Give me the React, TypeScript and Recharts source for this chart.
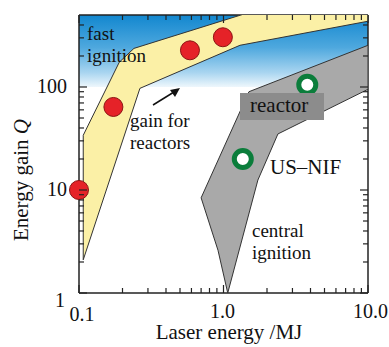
import React from "react";
import { ComposedChart, Scatter, XAxis, YAxis, ReferenceArea } from "recharts";

// axis ticks (log scales)
const X_TICKS = [0.1, 0.2, 0.3, 0.4, 0.5, 0.6, 0.7, 0.8, 0.9, 1, 2, 3, 4, 5, 6, 7, 8, 9, 10];
const Y_TICKS = [1, 2, 3, 4, 5, 6, 7, 8, 9, 10, 20, 30, 40, 50, 60, 70, 80, 90, 100, 200, 300, 400];
const X_LABELS: Record<string, string> = { "0.1": "0.1", "1": "1.0", "10": "10.0" };
const Y_LABELS: Record<string, string> = { "1": "1", "10": "10", "100": "100" };

// high gain zone (Q range)
const HIGH_GAIN = [100, 500];

// fast ignition band outline (MJ, Q)
const FAST_BAND = [
  { x: 0.107, y: 34 },
  { x: 0.19, y: 174 },
  { x: 0.24, y: 237 },
  { x: 2, y: 600 },
  { x: 10, y: 600 },
  { x: 10, y: 435 },
  { x: 1.3, y: 254 },
  { x: 0.264, y: 97 },
  { x: 0.107, y: 2.1 },
];

// central ignition band outline
const CENTRAL_BAND = [
  { x: 1.5, y: 90 },
  { x: 10, y: 254 },
  { x: 10, y: 95 },
  { x: 2.38, y: 35 },
  { x: 1.73, y: 12.5 },
  { x: 1.07, y: 1 },
  { x: 0.916, y: 2.6 },
  { x: 0.7, y: 8.4 },
];

const FAST_POINTS = [
  { x: 0.1, y: 10 },
  { x: 0.173, y: 64 },
  { x: 0.586, y: 227 },
  { x: 0.99, y: 304 },
];

const CENTRAL_POINTS = [
  { x: 3.8, y: 105 },
  { x: 1.36, y: 20 },
];

const FONT = "Liberation Serif";

const polygonLine = (fill: string) => (props: any) => {
  const pts = (props.points || []).map((p: any) => `${p.x},${p.y}`).join(" ");
  return <polygon points={pts} fill={fill} stroke="#333" strokeWidth={1} />;
};

const noShape = () => <g />;

const RedDot = (props: any) => (
  <circle cx={props.cx} cy={props.cy} r={9.5} fill="#e52228" stroke="#8b1414" strokeWidth={1} />
);

const GreenRing = (props: any) => (
  <circle cx={props.cx} cy={props.cy} r={8.5} fill="#fff" stroke="#0b7d3b" strokeWidth={5} />
);

const BottomTick = (props: any) => {
  const { x, y, payload } = props;
  const v = payload.value;
  const label = X_LABELS[String(v)];
  const len = label ? 8 : 5;
  let dx = 0;
  let dy = 25;
  let anchor = "middle";
  if (v === 0.1) { dx = 3; dy = 28; }
  if (v === 1) dx = -1;
  if (v === 10) { dx = 20; anchor = "end"; }
  return (
    <g>
      <line x1={x} x2={x} y1={y} y2={y - len} stroke="#222" strokeWidth={1.2} />
      {label && (
        <text x={x + dx} y={y + dy} textAnchor={anchor} fontFamily={FONT} fontSize={20} fill="#111">
          {label}
        </text>
      )}
    </g>
  );
};

const TopTick = (props: any) => {
  const { x, y, payload } = props;
  const len = X_LABELS[String(payload.value)] ? 8 : 5;
  return <line x1={x} x2={x} y1={y} y2={y + len} stroke="#222" strokeWidth={1.2} />;
};

const LeftTick = (props: any) => {
  const { x, y, payload } = props;
  const v = payload.value;
  const label = Y_LABELS[String(v)];
  const len = label ? 8 : 5;
  const lx = v === 1 ? x - 14 : x - 12;
  const ly = v === 1 ? y + 14 : y + 6;
  return (
    <g>
      <line x1={x} x2={x + len} y1={y} y2={y} stroke="#222" strokeWidth={1.2} />
      {label && (
        <text x={lx} y={ly} textAnchor="end" fontFamily={FONT} fontSize={20} fill="#111">
          {label}
        </text>
      )}
    </g>
  );
};

const RightTick = (props: any) => {
  const { x, y, payload } = props;
  const len = Y_LABELS[String(payload.value)] ? 8 : 5;
  return <line x1={x} x2={x - len} y1={y} y2={y} stroke="#222" strokeWidth={1.2} />;
};

const TwoLine = ({ x, y, lines, gap }: { x: number; y: number; lines: string[]; gap: number }) => (
  <text x={x} y={y} fontSize={19}>
    {lines.map((l, i) => (
      <tspan key={i} x={x} dy={i === 0 ? 0 : gap}>
        {l}
      </tspan>
    ))}
  </text>
);

export default function App() {
  const axisLine = { stroke: "#222", strokeWidth: 1.5 };
  return (
    <div style={{ position: "fixed", left: 0, top: 0, width: 389, height: 347, background: "#fff" }}>
      <svg width={0} height={0} style={{ position: "absolute" }}>
        <defs>
          <linearGradient id="blueBand" x1="0" y1="0" x2="0" y2="1">
            <stop offset="0%" stopColor="#1287cf" />
            <stop offset="45%" stopColor="#4ea8de" />
            <stop offset="80%" stopColor="#a9d5f0" />
            <stop offset="100%" stopColor="#eef7fc" />
          </linearGradient>
        </defs>
      </svg>
      <ComposedChart width={389} height={347} margin={{ top: 0, right: 0, bottom: 0, left: 0 }}>
        <XAxis
          xAxisId="bottom"
          dataKey="x"
          type="number"
          scale="log"
          domain={[0.1, 10]}
          allowDataOverflow
          ticks={X_TICKS}
          interval={0}
          height={54}
          tickSize={0}
          tickMargin={0}
          tickLine={false}
          axisLine={axisLine}
          tick={BottomTick}
        />
        <XAxis
          xAxisId="top"
          orientation="top"
          dataKey="x"
          type="number"
          scale="log"
          domain={[0.1, 10]}
          ticks={X_TICKS}
          interval={0}
          height={15}
          tickSize={0}
          tickMargin={0}
          tickLine={false}
          axisLine={axisLine}
          tick={TopTick}
        />
        <YAxis
          yAxisId="left"
          dataKey="y"
          type="number"
          scale="log"
          domain={[1, 500]}
          allowDataOverflow
          ticks={Y_TICKS}
          interval={0}
          width={79}
          tickSize={0}
          tickMargin={0}
          tickLine={false}
          axisLine={axisLine}
          tick={LeftTick}
        />
        <YAxis
          yAxisId="right"
          orientation="right"
          dataKey="y"
          type="number"
          scale="log"
          domain={[1, 500]}
          ticks={Y_TICKS}
          interval={0}
          width={21}
          tickSize={0}
          tickMargin={0}
          tickLine={false}
          axisLine={axisLine}
          tick={RightTick}
        />
        <ReferenceArea
          xAxisId="bottom"
          yAxisId="left"
          x1={0.1}
          x2={10}
          y1={HIGH_GAIN[0]}
          y2={HIGH_GAIN[1]}
          fill="url(#blueBand)"
          fillOpacity={1}
          stroke="none"
          ifOverflow="hidden"
        />
        <Scatter
          xAxisId="bottom"
          yAxisId="left"
          data={FAST_BAND}
          line={polygonLine("#fbf0a6")}
          shape={noShape}
          isAnimationActive={false}
        />
        <Scatter
          xAxisId="bottom"
          yAxisId="left"
          data={CENTRAL_BAND}
          line={polygonLine("#a9a9a9")}
          shape={noShape}
          isAnimationActive={false}
        />
        {/* markers on the unclipped axis pair so edge dots stay whole */}
        <Scatter
          xAxisId="top"
          yAxisId="right"
          data={FAST_POINTS}
          shape={RedDot}
          isAnimationActive={false}
        />
        <Scatter
          xAxisId="top"
          yAxisId="right"
          data={CENTRAL_POINTS}
          shape={GreenRing}
          isAnimationActive={false}
        />
      </ComposedChart>
      <svg
        width={389}
        height={347}
        style={{ position: "absolute", left: 0, top: 0, pointerEvents: "none" }}
        fontFamily={FONT}
        fontSize={21}
        fill="#111"
      >
        <TwoLine x={87} y={40} lines={["fast", "ignition"]} gap={22} />
        <TwoLine x={130} y={127} lines={["gain for", "reactors"]} gap={22} />
        <line x1={153} y1={105} x2={174} y2={92} stroke="#111" strokeWidth={1.5} />
        <polygon points="180,88 170,90 175,97" fill="#111" />
        <rect x={240} y={93} width={84} height={27} fill="#8c8c8c" />
        <text x={250} y={112}>reactor</text>
        <text x={270} y={174}>US–NIF</text>
        <TwoLine x={252} y={237} lines={["central", "ignition"]} gap={22} />
        <text transform="translate(28,180) rotate(-90)" textAnchor="middle">
          Energy gain <tspan fontStyle="italic">Q</tspan>
        </text>
        <text x={229} y={339} textAnchor="middle">Laser energy /MJ</text>
      </svg>
    </div>
  );
}
